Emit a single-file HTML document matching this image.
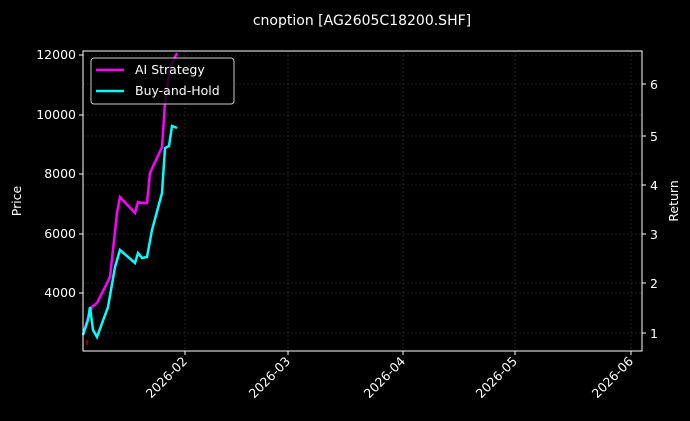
<!DOCTYPE html>
<html><head><meta charset="utf-8"><style>
html,body{margin:0;padding:0;background:#000;width:690px;height:421px;overflow:hidden;}
svg{display:block;}
text{font-family:"DejaVu Sans","Liberation Sans",sans-serif;fill:#fff;}
</style></head><body>
<svg width="690" height="421" viewBox="0 0 690 421" xmlns="http://www.w3.org/2000/svg">
<rect width="690" height="421" fill="#000"/>
<text x="362" y="25" font-size="14" text-anchor="middle">cnoption [AG2605C18200.SHF]</text>
<g stroke="#3a3a3a" stroke-width="0.6" stroke-dasharray="2,2">
<line x1="83" x2="642" y1="55" y2="55"/><line x1="83" x2="642" y1="115" y2="115"/><line x1="83" x2="642" y1="174" y2="174"/><line x1="83" x2="642" y1="234" y2="234"/><line x1="83" x2="642" y1="293" y2="293"/>
<line x1="83" x2="642" y1="84" y2="84"/><line x1="83" x2="642" y1="136" y2="136"/><line x1="83" x2="642" y1="185" y2="185"/><line x1="83" x2="642" y1="283" y2="283"/><line x1="83" x2="642" y1="333" y2="333"/>
<line x1="185" x2="185" y1="51" y2="351"/><line x1="288" x2="288" y1="51" y2="351"/><line x1="403" x2="403" y1="51" y2="351"/><line x1="515" x2="515" y1="51" y2="351"/><line x1="631" x2="631" y1="51" y2="351"/>
</g>
<polyline fill="none" stroke="#ff00ff" stroke-width="2.5" points="83,335 88,318 92,307 97,303 110,277 117,213 120,197 135,213 138,202 142,203 147,203 150,173 162,147 165,103 170,67 177,53"/>
<polyline fill="none" stroke="#00ffff" stroke-width="2.5" points="83,335 88,320 90,307 93,330 97,337 108,307 115,267 120,250 135,263 138,253 142,258 147,257 152,230 162,193 165,148 169,146 172,126 177,128"/>
<line x1="87" y1="340" x2="87" y2="345" stroke="#f00" stroke-width="1"/>
<rect x="83" y="51" width="559" height="300" fill="none" stroke="#fff" stroke-width="1"/>
<g stroke="#fff" stroke-width="1">
<line x1="79" x2="83" y1="55" y2="55"/><line x1="79" x2="83" y1="115" y2="115"/><line x1="79" x2="83" y1="174" y2="174"/><line x1="79" x2="83" y1="234" y2="234"/><line x1="79" x2="83" y1="293" y2="293"/>
<line x1="642" x2="646" y1="84" y2="84"/><line x1="642" x2="646" y1="136" y2="136"/><line x1="642" x2="646" y1="185" y2="185"/><line x1="642" x2="646" y1="234" y2="234"/><line x1="642" x2="646" y1="283" y2="283"/><line x1="642" x2="646" y1="333" y2="333"/>
<line x1="185" x2="185" y1="351" y2="355"/><line x1="288" x2="288" y1="351" y2="355"/><line x1="403" x2="403" y1="351" y2="355"/><line x1="515" x2="515" y1="351" y2="355"/><line x1="631" x2="631" y1="351" y2="355"/>
</g>
<g font-size="12.5" text-anchor="end">
<text x="76" y="59">12000</text><text x="76" y="119">10000</text><text x="76" y="178">8000</text><text x="76" y="238">6000</text><text x="76" y="297">4000</text>
</g>
<g font-size="12.5">
<text x="650" y="89">6</text><text x="650" y="141">5</text><text x="650" y="190">4</text><text x="650" y="239">3</text><text x="650" y="288">2</text><text x="650" y="338">1</text>
</g>
<g font-size="12.5" text-anchor="end">
<text transform="translate(188,362) rotate(-45)">2026-02</text>
<text transform="translate(291,362) rotate(-45)">2026-03</text>
<text transform="translate(406,362) rotate(-45)">2026-04</text>
<text transform="translate(518,362) rotate(-45)">2026-05</text>
<text transform="translate(634,362) rotate(-45)">2026-06</text>
</g>
<text transform="translate(21,201) rotate(-90)" font-size="12.5" text-anchor="middle">Price</text>
<text transform="translate(678,201) rotate(-90)" font-size="12.5" text-anchor="middle">Return</text>
<rect x="91" y="58" width="143" height="46" rx="3" fill="#000" fill-opacity="0.8" stroke="#ccc" stroke-width="1"/>
<line x1="96" x2="124" y1="70" y2="70" stroke="#ff00ff" stroke-width="2.5"/>
<line x1="96" x2="124" y1="91" y2="91" stroke="#00ffff" stroke-width="2.5"/>
<text x="135" y="74" font-size="12.5">AI Strategy</text>
<text x="135" y="95" font-size="12.5">Buy-and-Hold</text>
</svg>
</body></html>
